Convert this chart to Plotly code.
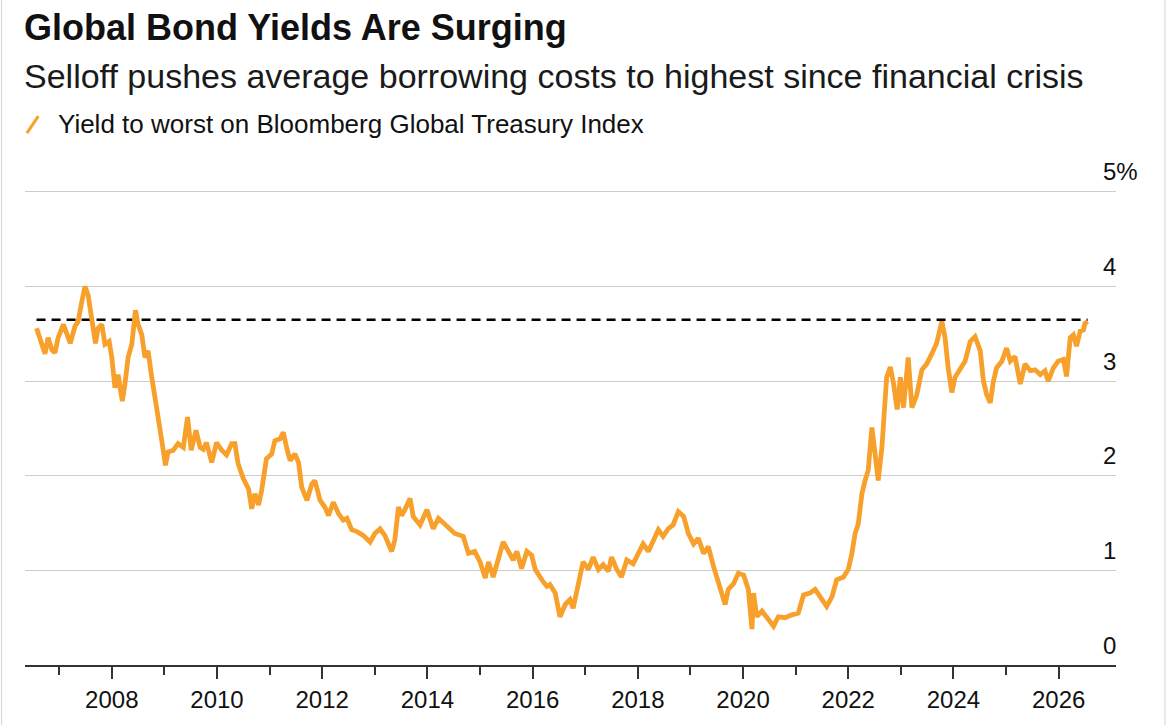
import plotly.graph_objects as go

# ---- data (decimal year, yield %) ----
years = [
    2006.57, 2006.64, 2006.73, 2006.79, 2006.86, 2006.92, 2006.98, 2007.08, 2007.14, 2007.21,
    2007.30, 2007.36, 2007.43, 2007.49, 2007.55, 2007.62, 2007.69, 2007.74, 2007.81, 2007.87,
    2007.95, 2008.00, 2008.06, 2008.12, 2008.20, 2008.25, 2008.31, 2008.38, 2008.45, 2008.50,
    2008.57, 2008.63, 2008.69, 2008.76, 2008.82, 2008.88, 2008.95, 2009.02, 2009.07, 2009.17,
    2009.26, 2009.36, 2009.44, 2009.51, 2009.60, 2009.68, 2009.74, 2009.80, 2009.90, 2009.99,
    2010.09, 2010.18, 2010.28, 2010.34, 2010.40, 2010.50, 2010.60, 2010.66, 2010.72, 2010.79,
    2010.85, 2010.94, 2011.04, 2011.10, 2011.20, 2011.26, 2011.33, 2011.39, 2011.48, 2011.55,
    2011.61, 2011.71, 2011.80, 2011.86, 2011.96, 2012.05, 2012.12, 2012.21, 2012.31, 2012.40,
    2012.47, 2012.56, 2012.66, 2012.78, 2012.91, 2013.00, 2013.10, 2013.19, 2013.32, 2013.38,
    2013.45, 2013.51, 2013.57, 2013.67, 2013.73, 2013.86, 2013.99, 2014.11, 2014.21, 2014.37,
    2014.52, 2014.68, 2014.78, 2014.90, 2015.00, 2015.10, 2015.16, 2015.25, 2015.35, 2015.44,
    2015.54, 2015.63, 2015.70, 2015.79, 2015.89, 2015.98, 2016.05, 2016.14, 2016.20, 2016.27,
    2016.33, 2016.43, 2016.52, 2016.62, 2016.71, 2016.77, 2016.87, 2016.96, 2017.06, 2017.15,
    2017.25, 2017.34, 2017.44, 2017.50, 2017.60, 2017.69, 2017.79, 2017.91, 2018.01, 2018.10,
    2018.20, 2018.29, 2018.39, 2018.48, 2018.58, 2018.67, 2018.77, 2018.87, 2018.96, 2019.06,
    2019.15, 2019.25, 2019.34, 2019.44, 2019.53, 2019.60, 2019.66, 2019.72, 2019.82, 2019.91,
    2020.01, 2020.10, 2020.17, 2020.20, 2020.26, 2020.36, 2020.45, 2020.58, 2020.67, 2020.80,
    2020.93, 2021.05, 2021.15, 2021.27, 2021.37, 2021.46, 2021.59, 2021.69, 2021.78, 2021.91,
    2022.00, 2022.07, 2022.13, 2022.19, 2022.26, 2022.32, 2022.38, 2022.45, 2022.51, 2022.57,
    2022.64, 2022.70, 2022.73, 2022.80, 2022.86, 2022.93, 2022.99, 2023.05, 2023.14, 2023.21,
    2023.30, 2023.40, 2023.49, 2023.59, 2023.68, 2023.78, 2023.84, 2023.90, 2023.97, 2024.03,
    2024.13, 2024.22, 2024.32, 2024.41, 2024.51, 2024.57, 2024.63, 2024.70, 2024.76, 2024.82,
    2024.92, 2025.01, 2025.08, 2025.17, 2025.27, 2025.36, 2025.46, 2025.55, 2025.65, 2025.74,
    2025.80, 2025.90, 2025.99, 2026.09, 2026.15, 2026.22, 2026.28, 2026.34, 2026.41, 2026.47,
    2026.50, 2026.55,
]
yields = [
    3.56, 3.44, 3.29, 3.46, 3.33, 3.30, 3.46, 3.60, 3.51, 3.40,
    3.58, 3.63, 3.84, 4.00, 3.91, 3.67, 3.40, 3.56, 3.60, 3.39,
    3.42, 3.25, 2.93, 3.07, 2.79, 2.97, 3.25, 3.39, 3.75, 3.60,
    3.49, 3.25, 3.32, 3.04, 2.79, 2.62, 2.37, 2.11, 2.25, 2.27,
    2.34, 2.30, 2.62, 2.27, 2.48, 2.30, 2.28, 2.35, 2.14, 2.35,
    2.27, 2.22, 2.34, 2.34, 2.13, 1.97, 1.86, 1.65, 1.81, 1.69,
    1.85, 2.18, 2.23, 2.37, 2.39, 2.46, 2.28, 2.16, 2.23, 2.14,
    1.88, 1.74, 1.91, 1.95, 1.74, 1.67, 1.58, 1.72, 1.60, 1.53,
    1.55, 1.43, 1.41, 1.37, 1.30, 1.39, 1.44, 1.37, 1.20, 1.32,
    1.67, 1.58, 1.64, 1.76, 1.57, 1.48, 1.64, 1.44, 1.55, 1.46,
    1.39, 1.36, 1.18, 1.20, 1.09, 0.92, 1.09, 0.93, 1.14, 1.30,
    1.20, 1.11, 1.20, 1.02, 1.20, 1.16, 1.01, 0.92, 0.88, 0.83,
    0.85, 0.76, 0.51, 0.64, 0.69, 0.60, 0.86, 1.09, 1.01, 1.14,
    1.01, 1.06, 0.99, 1.14, 1.01, 0.93, 1.11, 1.07, 1.18, 1.28,
    1.20, 1.32, 1.43, 1.36, 1.44, 1.48, 1.62, 1.57, 1.39, 1.28,
    1.34, 1.18, 1.25, 1.04, 0.88, 0.74, 0.64, 0.80, 0.86, 0.97,
    0.95, 0.80, 0.38, 0.76, 0.51, 0.57, 0.50, 0.41, 0.51, 0.50,
    0.53, 0.55, 0.74, 0.76, 0.80, 0.72, 0.62, 0.72, 0.90, 0.93,
    1.01, 1.18, 1.39, 1.49, 1.81, 1.95, 2.06, 2.51, 2.20, 1.95,
    2.30, 2.76, 3.04, 3.15, 2.98, 2.70, 3.04, 2.72, 3.25, 2.72,
    2.85, 3.12, 3.18, 3.29, 3.40, 3.63, 3.46, 3.14, 2.88, 3.04,
    3.14, 3.21, 3.42, 3.47, 3.32, 3.00, 2.86, 2.77, 3.00, 3.14,
    3.21, 3.35, 3.21, 3.26, 2.97, 3.18, 3.11, 3.12, 3.07, 3.11,
    3.00, 3.14, 3.21, 3.23, 3.05, 3.46, 3.49, 3.37, 3.53, 3.54,
    3.61, 3.63,
]

ref_level = 3.65                 # dashed reference line (prior high)
ref_span = [2006.57, 2026.55]

x_tick_vals = [2008, 2010, 2012, 2014, 2016, 2018, 2020, 2022, 2024, 2026]
x_tick_text = ["2008", "2010", "2012", "2014", "2016", "2018", "2020", "2022", "2024", "2026"]
x_minor_vals = [2007, 2009, 2011, 2013, 2015, 2017, 2019, 2021, 2023, 2025]
y_tick_vals = [0, 1, 2, 3, 4, 5]
y_tick_text = ["0", "1", "2", "3", "4", "5%"]

title = "Global Bond Yields Are Surging"
subtitle = "Selloff pushes average borrowing costs to highest since financial crisis"
legend_label = "Yield to worst on Bloomberg Global Treasury Index"

ORANGE = "#F7A12C"
FONT = "Liberation Sans, Arial, Helvetica, sans-serif"
TXT = "#111111"

fig = go.Figure()

fig.add_trace(go.Scatter(
    x=ref_span, y=[ref_level, ref_level], mode="lines",
    line=dict(color="#000000", width=2.5, dash="9px,6px"),
    hoverinfo="skip", showlegend=False,
))
fig.add_trace(go.Scatter(
    x=years, y=yields, mode="lines",
    line=dict(color=ORANGE, width=4.8),
    name=legend_label, showlegend=False,
))

annotations = [
    dict(text=f"<b>{title}</b>", x=-0.003, y=1.343, xref="paper", yref="paper",
         xanchor="left", yanchor="middle", showarrow=False,
         font=dict(family=FONT, size=36, color=TXT)),
    dict(text=subtitle, x=-0.003, y=1.240, xref="paper", yref="paper",
         xanchor="left", yanchor="middle", showarrow=False,
         font=dict(family=FONT, size=34, color="#1a1a1a")),
    dict(text=legend_label, x=0.028, y=1.138, xref="paper", yref="paper",
         xanchor="left", yanchor="middle", showarrow=False,
         font=dict(family=FONT, size=26, color=TXT)),
]
for v, t in zip(y_tick_vals, y_tick_text):
    annotations.append(dict(
        text=t, x=0.986, y=v, xref="paper", yref="y",
        xanchor="left", yanchor="middle", yshift=20, showarrow=False,
        font=dict(family=FONT, size=24, color=TXT),
    ))

shapes = [
    # legend swatch (diagonal stroke)
    dict(type="line", xref="paper", yref="paper",
         x0=0.0017, y0=1.1197, x1=0.0122, y1=1.1555,
         line=dict(color=ORANGE, width=3)),
    # faint frame around the picture
    dict(type="rect", xref="paper", yref="paper",
         x0=-0.0215, y0=-0.13, x1=1.0449, y1=1.403,
         line=dict(color="#d9d9d9", width=1.2)),
]

fig.update_layout(
    width=1169, height=725,
    margin=dict(l=25, r=53, t=190, b=55),
    paper_bgcolor="white", plot_bgcolor="white",
    showlegend=False,
    annotations=annotations,
    shapes=shapes,
    xaxis=dict(
        range=[2006.35, 2027.09],
        tickvals=x_tick_vals, ticktext=x_tick_text,
        ticks="outside", ticklen=12, tickwidth=1.5, tickcolor="#333333",
        showline=True, linecolor="#333333", linewidth=2,
        showgrid=False, zeroline=False,
        tickfont=dict(family=FONT, size=24, color=TXT),
        minor=dict(tickvals=x_minor_vals, ticks="outside", ticklen=8,
                   tickwidth=1.5, tickcolor="#333333", showgrid=False),
    ),
    yaxis=dict(
        range=[0, 5.02],
        tickvals=y_tick_vals, showticklabels=False,
        showgrid=True, gridcolor="#cccccc", gridwidth=1,
        zeroline=False, showline=False, ticks="",
    ),
)

fig.write_html(
    "out.html",
    config={"displayModeBar": False},
    post_script="document.body.style.margin='0px';document.body.style.overflow='hidden';",
)
